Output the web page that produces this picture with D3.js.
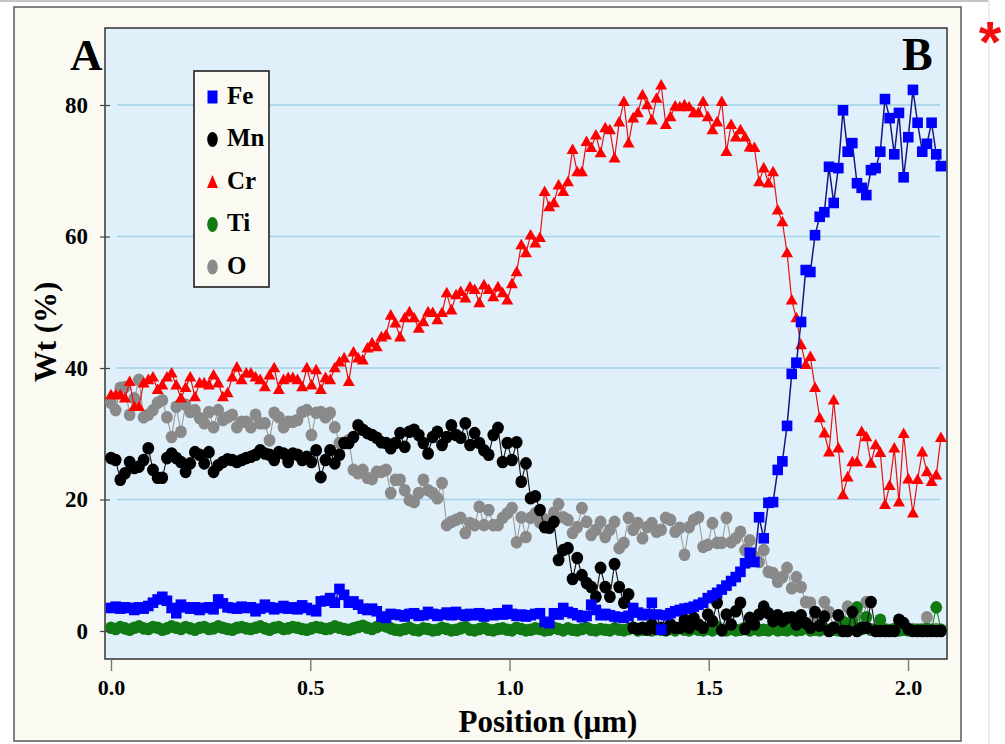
<!DOCTYPE html>
<html><head><meta charset="utf-8">
<script src="https://cdn.jsdelivr.net/npm/d3@7"></script>
<style>body{margin:0;background:#fff}svg{display:block}</style>
</head><body><svg id="c" width="1005" height="744"></svg>
<script>
// ---- data ----
const elements = ["Fe", "Mn", "Cr", "Ti", "O"];
const stepUm = 0.0117; // linescan step (µm)
const feValues = [3.5,3.7,3.4,3.6,3.5,3.2,3.6,3.4,3.8,4.3,
4.8,5.2,4.6,3.5,2.7,4.0,3.6,3.4,3.6,3.2,
3.5,3.6,3.3,4.8,4.2,3.6,3.5,3.4,3.7,3.5,
3.6,3.0,3.4,4.0,3.6,3.3,3.5,3.8,3.4,3.6,
3.3,3.9,3.5,3.2,3.0,4.5,4.6,5.0,4.3,6.4,
5.5,4.3,4.5,4.0,3.4,3.2,3.4,3.0,2.2,2.0,
2.6,2.5,2.4,2.2,2.6,2.7,2.3,2.4,2.9,2.6,
2.3,2.5,2.8,2.4,2.9,2.5,2.3,2.6,2.4,2.7,
2.2,2.5,2.4,2.7,2.5,3.2,2.6,2.3,2.5,2.2,
2.4,2.6,2.7,1.4,1.2,2.7,2.5,3.5,2.9,2.7,
2.4,2.1,2.3,4.0,3.2,2.4,2.6,2.4,2.2,2.1,
2.0,2.3,3.5,2.8,2.4,2.6,4.3,2.5,0.2,2.4,
2.7,3.0,3.2,3.4,3.5,3.7,4.0,4.3,5.0,5.4,
5.8,6.3,6.9,7.6,8.2,9.0,10.3,11.9,10.5,17.3,
14.1,19.5,19.6,24.5,25.8,31.2,39.1,40.8,47.0,54.9,
54.6,60.2,63.0,63.7,70.6,65.1,70.4,79.2,72.9,74.2,
68.1,67.4,66.3,70.1,70.4,72.9,80.9,78.0,72.5,78.8,
69.0,75.1,82.3,77.3,72.9,74.1,77.3,72.5,70.7];
const mnValues = [26.3,26.0,23.0,24.0,25.7,24.8,25.0,26.0,27.8,24.5,
23.3,23.3,26.3,27.0,26.3,25.7,24.2,25.5,27.2,26.8,
25.5,27.2,24.2,25.2,25.7,26.1,26.0,25.7,26.0,26.3,
26.5,26.8,27.5,27.0,26.8,26.0,27.2,27.0,25.7,27.0,
26.8,26.0,26.5,25.7,27.5,23.4,26.0,27.5,25.5,26.8,
28.6,28.6,29.5,31.3,30.6,30.1,29.8,29.4,28.7,28.6,
27.8,28.6,30.1,28.0,30.3,30.6,29.8,28.6,27.0,29.5,
30.3,28.3,29.5,31.3,29.8,29.4,31.6,28.3,30.1,28.6,
27.5,26.8,29.8,30.9,25.7,28.6,26.0,28.7,22.7,25.5,
20.2,20.5,18.4,15.8,15.7,16.6,10.8,12.3,12.6,7.9,
11.1,8.5,7.3,6.7,5.2,9.6,6.7,5.2,10.2,6.7,
4.3,5.6,0.5,0.3,0.5,0.2,1.0,0.3,0.5,0.2,
1.0,0.5,0.5,1.7,0.5,2.0,1.0,0.5,2.5,1.5,
4.3,0.1,2.5,1.0,3.0,4.3,0.3,2.0,1.0,2.5,
3.7,2.7,1.5,2.4,1.5,2.0,2.1,1.0,2.4,1.2,
0.5,2.9,0.8,2.2,0.0,0.5,2.4,0.0,0.0,2.9,
0.0,0.5,0.5,4.4,0.0,0.0,0.0,0.0,0.0,1.7,
1.2,0.3,0.0,0.0,0.0,0.0,0.0,0.0,0.0];
const crValues = [35.9,35.9,35.9,35.4,37.9,34.1,34.1,37.7,38.2,38.6,
36.7,37.4,38.6,39.2,37.4,35.4,37.0,38.6,35.6,37.7,
37.7,37.4,38.9,37.7,35.6,36.2,38.6,40.1,38.2,39.2,
39.2,38.6,38.2,37.1,38.9,40.0,36.7,38.2,38.5,38.5,
38.2,37.1,40.0,37.4,39.7,36.7,38.5,38.2,40.0,40.9,
41.5,37.9,42.4,41.5,41.2,43.0,43.8,43.2,44.7,45.0,
48.0,46.8,44.7,47.6,48.5,47.6,46.0,47.0,48.5,48.4,
47.3,48.4,51.4,48.8,51.1,51.6,50.6,52.3,51.9,49.9,
52.6,51.9,50.8,52.3,51.4,50.3,52.8,54.6,58.7,57.5,
60.2,59.0,59.8,66.8,64.5,65.1,67.8,66.8,68.3,73.2,
69.8,69.8,74.4,73.5,75.4,72.7,76.5,76.2,71.9,77.4,
80.5,74.2,78.0,78.8,81.5,80.0,77.7,81.0,83.0,77.0,
78.2,79.8,79.7,80.0,79.7,78.8,78.8,80.5,78.2,76.2,
77.4,80.5,72.9,77.0,75.1,76.2,75.1,73.6,73.5,68.3,
70.4,68.1,69.8,64.0,62.2,57.5,50.3,47.6,43.5,40.5,
41.7,37.0,32.4,30.1,27.2,35.1,27.8,20.7,23.4,25.7,
25.7,30.3,29.5,25.5,28.3,27.1,19.2,22.1,27.8,19.6,
30.0,23.1,17.9,23.0,27.2,24.2,22.7,23.7,29.4];
const tiValues = [0.5,0.3,0.6,0.4,0.2,0.5,0.7,0.4,0.3,0.6,
0.5,0.2,0.4,0.7,0.5,0.3,0.6,0.4,0.2,0.5,
0.6,0.3,0.4,0.7,0.5,0.3,0.2,0.5,0.6,0.4,
0.3,0.5,0.7,0.4,0.2,0.5,0.6,0.3,0.4,0.6,
0.5,0.3,0.2,0.4,0.6,0.5,0.3,0.4,0.7,0.5,
0.3,0.2,0.4,0.6,0.8,0.5,0.3,0.6,0.9,0.7,
0.4,0.2,0.1,0.3,0.5,0.2,0.1,0.4,0.3,0.1,
0.2,0.5,0.3,0.1,0.2,0.4,0.6,0.2,0.1,0.3,
0.5,0.2,0.1,0.3,0.4,0.2,0.1,0.5,0.3,0.1,
0.2,0.4,0.3,0.1,0.2,0.5,0.3,0.1,0.4,0.2,
0.1,0.3,0.5,0.2,0.1,0.3,0.2,0.1,0.4,0.2,
0.1,0.3,0.5,0.1,0.2,0.4,0.1,0.3,0.2,0.1,
0.3,0.1,0.5,0.2,0.1,0.4,0.2,0.1,0.3,0.1,
0.6,0.2,0.1,0.3,0.1,0.2,0.5,0.1,0.3,0.1,
0.2,0.1,0.4,0.1,0.2,0.1,0.3,0.1,0.2,0.5,
0.1,0.2,0.1,0.3,0.1,0.2,0.1,1.4,0.2,1.4,
3.6,0.3,2.1,0.2,0.1,1.7,0.2,0.1,0.3,0.1,
0.2,0.1,0.1,0.2,0.1,0.3,0.2,3.6,0.2];
const oValues = [34.7,33.6,37.0,37.1,32.9,35.4,38.2,32.5,32.9,33.6,
34.7,35.1,32.5,29.5,34.1,30.3,34.4,33.3,33.6,32.4,
31.6,33.3,31.0,33.6,32.1,32.5,32.9,31.0,31.8,31.8,
31.0,32.9,31.6,31.6,29.0,33.2,32.5,31.0,31.8,31.8,
32.1,33.3,33.6,29.8,33.2,33.3,32.5,33.2,31.0,28.6,
28.6,29.0,24.5,24.0,24.5,23.3,23.1,24.2,24.2,24.5,
21.0,23.0,23.0,21.4,19.9,19.6,21.0,23.0,21.4,21.0,
20.2,22.5,16.1,16.6,16.9,17.2,14.9,16.4,16.1,18.9,
16.1,18.4,16.1,16.1,17.2,17.9,18.7,13.5,17.3,14.3,
17.2,17.9,16.5,17.0,16.2,18.0,19.3,17.3,16.9,14.9,
15.8,18.7,16.6,14.6,15.4,16.6,14.3,15.4,16.6,12.6,
13.4,17.2,15.4,16.4,14.1,15.8,16.4,15.1,15.4,17.2,
16.9,15.1,15.7,11.6,15.8,16.9,17.3,12.8,13.1,16.4,
13.4,13.4,17.2,13.5,14.1,15.1,12.3,13.8,11.3,10.5,
12.3,9.0,8.8,7.5,8.2,9.6,6.5,8.2,6.7,4.4,
4.3,2.0,1.0,4.4,2.9,0.5,0.3,1.0,3.7,0.5,
2.5,0.3,4.4,0.3,0.2,0.5,0.3,0.2,0.2,0.3,
0.2,0.2,0.3,0.2,0.3,2.1,0.2,0.3,0.2];
const xTicks = [0.0, 0.5, 1.0, 1.5, 2.0];
const yTicks = [0, 20, 40, 60, 80];
const xTitle = "Position (µm)";
const yTitle = "Wt (%)";

// ---- drawing ----
const FONT = "'Liberation Serif','Times New Roman',serif";
const svg = d3.select("#c");
const x = d3.scaleLinear().domain([0, 2]).range([111, 908]);
const y = d3.scaleLinear().domain([0, 80]).range([631, 105]);
const pos = d3.range(feValues.length).map(i => i * stepUm);

// screenshot edges
svg.append("line").attr("x1",0).attr("x2",989).attr("y1",1).attr("y2",1)
  .attr("stroke","#c4c4c4").attr("stroke-width",2);
svg.append("line").attr("x1",989).attr("x2",989).attr("y1",0).attr("y2",744)
  .attr("stroke","#ececec").attr("stroke-width",2);

// outer frame
svg.append("rect").attr("x",14).attr("y",7).attr("width",947).attr("height",734)
  .attr("fill","#fafaf3").attr("stroke","#5a5a5a").attr("stroke-width",1.5);
// plot area
const P = {l:105, t:28, r:947, b:659};
svg.append("rect").attr("x",P.l).attr("y",P.t).attr("width",P.r-P.l).attr("height",P.b-P.t)
  .attr("fill","#e0f0fa").attr("stroke","#333").attr("stroke-width",1.5);

// gridlines
svg.append("g").selectAll("line").data(yTicks).join("line")
  .attr("x1",117).attr("x2",940).attr("y1",d=>y(d)).attr("y2",d=>y(d))
  .attr("stroke","#9fd2e4").attr("stroke-width",1.3);

// series
const series = [
  {name:"O",  vals:oValues,  fill:"#8a8a8a", line:"#9a9a9a", lw:1.1, shape:"circle"},
  {name:"Ti", vals:tiValues, fill:"#127a12", line:"#1a8a1a", lw:1.1, shape:"circle"},
  {name:"Cr", vals:crValues, fill:"#ff0000", line:"#e81010", lw:1.2, shape:"triangle"},
  {name:"Mn", vals:mnValues, fill:"#000000", line:"#111111", lw:1.1, shape:"circle"},
  {name:"Fe", vals:feValues, fill:"#0000ff", line:"#16168a", lw:1.5, shape:"square"}
];
function shapePath(shape, s){
  if(shape==="square"){ const h=5.3*s; return `M${-h},${-h}H${h}V${h}H${-h}Z`; }
  if(shape==="triangle"){ return `M0,${-6.3*s}L${6*s},${4.3*s}L${-6*s},${4.3*s}Z`; }
  return null;
}
const lineGen = d3.line().x((d,i)=>x(pos[i])).y(d=>y(d));
series.forEach(sr=>{
  const g = svg.append("g");
  g.append("path").attr("d", lineGen(sr.vals)).attr("fill","none")
    .attr("stroke", sr.line).attr("stroke-width", sr.lw);
  const pts = g.selectAll(".p").data(sr.vals).join(sr.shape==="circle"?"ellipse":"path")
    .attr("class","p").attr("fill", sr.fill);
  if(sr.shape==="circle"){
    pts.attr("cx",(d,i)=>x(pos[i])).attr("cy",d=>y(d)).attr("rx",5.9).attr("ry",6.3);
  } else {
    pts.attr("d", shapePath(sr.shape,1)).attr("transform",(d,i)=>`translate(${x(pos[i])},${y(d)})`);
  }
});

// axes
const yAxis = svg.append("g").attr("transform","translate(110,0)")
  .call(d3.axisLeft(y).tickValues(yTicks).tickSize(10).tickPadding(12).tickFormat(d3.format("d")));
yAxis.select(".domain").remove();
yAxis.selectAll(".tick line").attr("stroke","#444").attr("stroke-width",1.2);
yAxis.selectAll("text").attr("font-family",FONT).attr("font-weight","bold")
  .attr("font-size",23).attr("fill","#000");

const xAxis = svg.append("g").attr("transform","translate(0,660)")
  .call(d3.axisBottom(x).tickValues(xTicks).tickSize(11).tickPadding(8).tickFormat(d3.format(".1f")));
xAxis.select(".domain").remove();
xAxis.selectAll(".tick line").attr("stroke","#777").attr("stroke-width",1.4);
xAxis.selectAll("text").attr("font-family",FONT).attr("font-weight","bold")
  .attr("font-size",22).attr("fill","#000");

// titles
svg.append("text").attr("x",548).attr("y",732).attr("text-anchor","middle")
  .attr("font-family",FONT).attr("font-weight","bold").attr("font-size",31).text(xTitle);
svg.append("text").attr("transform","translate(56,332) rotate(-90)").attr("text-anchor","middle")
  .attr("font-family",FONT).attr("font-weight","bold").attr("font-size",31).text(yTitle);
svg.append("text").attr("x",70).attr("y",70).attr("font-family",FONT).attr("font-weight","bold")
  .attr("font-size",45).text("A");
svg.append("text").attr("x",902).attr("y",70).attr("font-family",FONT).attr("font-weight","bold")
  .attr("font-size",46).text("B");
svg.append("text").attr("x",990).attr("y",62).attr("text-anchor","middle")
  .attr("font-family","'Liberation Sans',Arial,sans-serif").attr("font-weight","bold")
  .attr("font-size",58).attr("fill","#f01010").text("*");

// legend
const lg = svg.append("g");
lg.append("rect").attr("x",194).attr("y",71).attr("width",75).attr("height",216)
  .attr("fill","#fafaf3").attr("stroke","#111").attr("stroke-width",1.5);
const legendY = d3.scalePoint().domain(elements).range([97, 267]);
const legendStyle = {Fe:series[4], Mn:series[3], Cr:series[2], Ti:series[1], O:series[0]};
elements.forEach(el=>{
  const sr = legendStyle[el], cy = legendY(el);
  if(sr.shape==="circle"){
    lg.append("ellipse").attr("cx",212.5).attr("cy",cy).attr("rx",5.3).attr("ry",7.5).attr("fill",sr.fill);
  } else if(sr.shape==="square"){
    lg.append("rect").attr("x",207.5).attr("y",cy-6.5).attr("width",10).attr("height",13).attr("fill",sr.fill);
  } else {
    lg.append("path").attr("d",`M0,-7L5.5,6L-5.5,6Z`).attr("transform",`translate(212.5,${cy})`).attr("fill",sr.fill);
  }
  lg.append("text").attr("x",227).attr("y",cy+6.5).attr("font-family",FONT).attr("font-weight","bold")
    .attr("font-size",25).text(el);
});
</script></body></html>
